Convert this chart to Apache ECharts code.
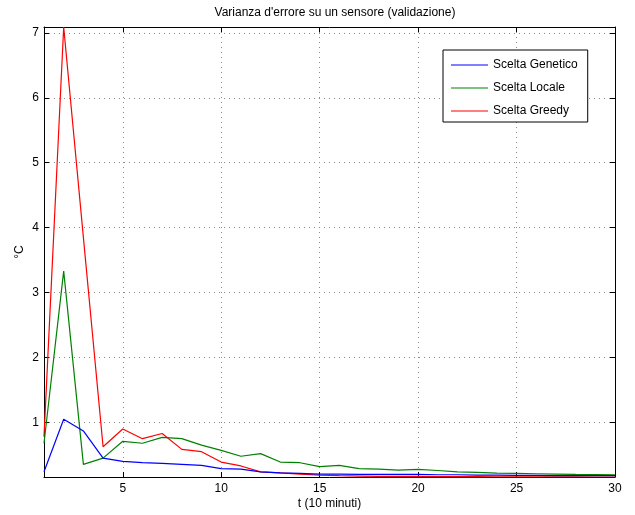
<!DOCTYPE html>
<html>
<head>
<meta charset="utf-8">
<script src="https://cdn.jsdelivr.net/npm/echarts@6/dist/echarts.min.js"></script>
<style>
  html, body { margin: 0; padding: 0; background: #fff; }
  #chart { width: 635px; height: 515px; }
</style>
</head>
<body>
<div id="chart"></div>
<script>
// Time steps (units of 10 minutes)
const tSteps = [1, 2, 3, 4, 5, 6, 7, 8, 9, 10, 11, 12, 13, 14, 15, 16, 17, 18, 19, 20, 21, 22, 23, 24, 25, 26, 27, 28, 29, 30];

// Error variance (°C) for each sensor selection strategy
const sceltaGenetico = [0.24, 1.05, 0.87, 0.45, 0.40, 0.38, 0.37, 0.355, 0.34, 0.29, 0.28, 0.24, 0.225, 0.215, 0.205, 0.205, 0.20, 0.20, 0.20, 0.20, 0.195, 0.195, 0.19, 0.19, 0.185, 0.185, 0.18, 0.18, 0.18, 0.18];
const sceltaLocale = [0.68, 3.33, 0.355, 0.45, 0.71, 0.68, 0.77, 0.75, 0.65, 0.57, 0.48, 0.52, 0.39, 0.38, 0.32, 0.34, 0.29, 0.28, 0.266, 0.277, 0.26, 0.24, 0.23, 0.22, 0.215, 0.21, 0.205, 0.20, 0.197, 0.195];
const sceltaGreedy = [0.78, 7.09, 3.85, 0.625, 0.90, 0.75, 0.83, 0.585, 0.55, 0.39, 0.33, 0.24, 0.225, 0.205, 0.19, 0.18, 0.175, 0.17, 0.17, 0.17, 0.168, 0.166, 0.165, 0.164, 0.163, 0.162, 0.162, 0.161, 0.16, 0.16];

// Tick positions
const xTicks = [5, 10, 15, 20, 25, 30];
const yTicks = [1, 2, 3, 4, 5, 6, 7];

const seriesNames = ['Scelta Genetico', 'Scelta Locale', 'Scelta Greedy'];
const seriesColors = ['#0000ff', '#008000', '#ff0000'];
const seriesValues = [sceltaGenetico, sceltaLocale, sceltaGreedy];

const FONT = 'Liberation Sans, Arial, sans-serif';

// Tight y range around the data
const allVals = [].concat(sceltaGenetico, sceltaLocale, sceltaGreedy);
const yMin = Math.min.apply(null, allVals);
const yMax = Math.max.apply(null, allVals);

const dotted = { color: '#8c8c8c', width: 1, type: [1, 4] };

function xAxisCfg(pos, withLabels) {
  return {
    type: 'value',
    position: pos,
    min: 1,
    max: 30,
    name: withLabels ? 't (10 minuti)' : '',
    nameLocation: 'middle',
    nameGap: 21,
    nameMoveOverlap: false,
    nameTextStyle: { color: '#000', fontFamily: FONT, fontSize: 12 },
    axisLine: { show: true, onZero: false, lineStyle: { color: '#000', width: 1 } },
    axisTick: { show: true, inside: true, length: 5, customValues: xTicks, lineStyle: { color: '#000' } },
    axisLabel: { show: withLabels, customValues: xTicks, margin: 6, color: '#000', fontFamily: FONT, fontSize: 12 },
    splitLine: { show: withLabels, lineStyle: dotted }
  };
}

function yAxisCfg(pos, withLabels) {
  return {
    type: 'value',
    position: pos,
    min: yMin,
    max: yMax,
    name: withLabels ? '°C' : '',
    nameLocation: 'middle',
    nameGap: 18,
    nameMoveOverlap: false,
    nameRotate: 90,
    nameTextStyle: { color: '#000', fontFamily: FONT, fontSize: 12 },
    axisLine: { show: true, onZero: false, lineStyle: { color: '#000', width: 1 } },
    axisTick: { show: true, inside: true, length: 5, customValues: yTicks, lineStyle: { color: '#000' } },
    axisLabel: { show: withLabels, customValues: yTicks, margin: 5, color: '#000', fontFamily: FONT, fontSize: 12 },
    splitLine: { show: withLabels, lineStyle: dotted }
  };
}

const chart = echarts.init(document.getElementById('chart'), null, { renderer: 'canvas' });

chart.setOption({
  animation: false,
  backgroundColor: '#fff',
  title: {
    text: "Varianza d'errore su un sensore (validazione)",
    left: 330,
    textAlign: 'center',
    top: 2,
    textStyle: { color: '#000', fontFamily: FONT, fontSize: 12, fontWeight: 'normal' }
  },
  grid: { left: 44, right: 20, top: 27, bottom: 38, containLabel: false, outerBoundsMode: 'none' },
  xAxis: [xAxisCfg('bottom', true), xAxisCfg('top', false)],
  yAxis: [yAxisCfg('left', true), yAxisCfg('right', false)],
  legend: {
    orient: 'vertical',
    left: 443,
    top: 50,
    padding: [8, 10, 4, 8],
    icon: 'rect',
    itemWidth: 37,
    itemHeight: 1,
    itemGap: 9,
    backgroundColor: '#fff',
    borderColor: '#000',
    borderWidth: 1,
    borderRadius: 0,
    textStyle: { color: '#000', fontFamily: FONT, fontSize: 12, lineHeight: 14 },
    data: seriesNames
  },
  series: seriesValues.map(function (vals, i) {
    return {
      name: seriesNames[i],
      type: 'line',
      xAxisIndex: 0,
      yAxisIndex: 0,
      data: tSteps.map(function (t, k) { return [t, vals[k]]; }),
      symbol: 'none',
      clip: true,
      lineStyle: { color: seriesColors[i], width: 1.2 },
      itemStyle: { color: seriesColors[i] },
      z: 3 + (2 - i)
    };
  })
});
</script>
</body>
</html>
